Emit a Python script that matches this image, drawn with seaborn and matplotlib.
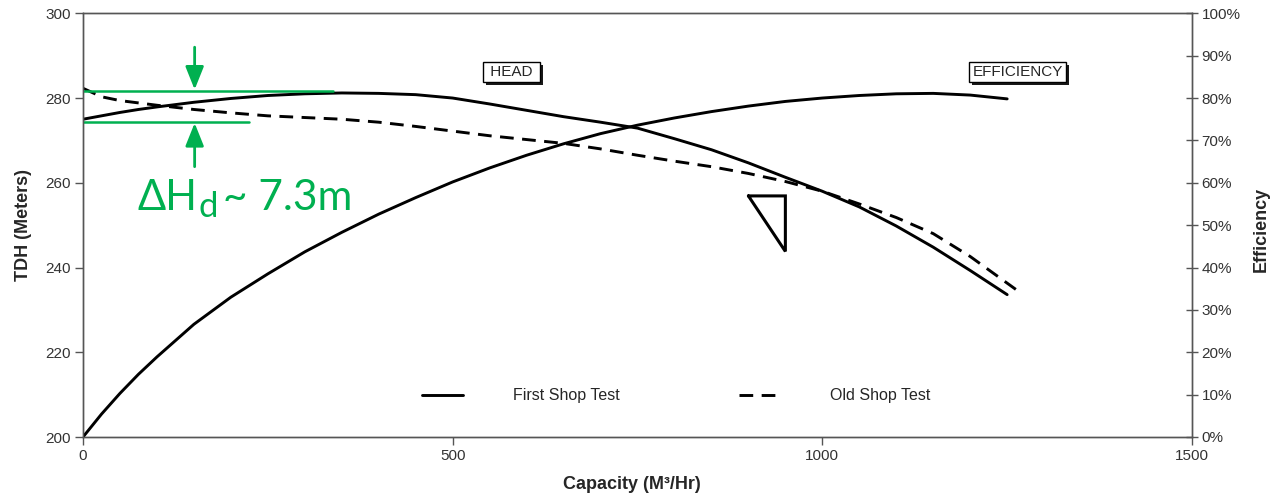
"""
Pump performance curve: head and efficiency vs capacity
"""

import matplotlib
matplotlib.use("Agg")
import matplotlib.pyplot as plt
import matplotlib.patheffects as pe
from matplotlib.ticker import PercentFormatter
import seaborn as sns

# Dados
capacity = [0, 25, 50, 75, 100, 150, 200, 250, 300, 350, 400, 450, 500, 550,
            600, 650, 700, 750, 800, 850, 900, 950, 1000, 1050, 1100, 1150,
            1200, 1250]
head_first = [275.0, 275.8, 276.6, 277.3, 277.9, 279.0, 279.9, 280.6, 281.0,
              281.2, 281.1, 280.8, 280.0, 278.6, 277.1, 275.6, 274.3, 272.9,
              270.4, 267.8, 264.7, 261.3, 258.0, 254.3, 249.8, 244.8, 239.3,
              233.6]
eff_first = [0.0, 5.4, 10.3, 14.8, 18.9, 26.6, 33.0, 38.5, 43.7, 48.3, 52.6,
             56.5, 60.2, 63.5, 66.5, 69.2, 71.6, 73.6, 75.3, 76.8, 78.1, 79.2,
             80.0, 80.6, 81.0, 81.1, 80.7, 79.8]

capacity_old = [0, 25, 50, 100, 150, 200, 250, 300, 350, 400, 450, 500, 550,
                600, 650, 700, 750, 800, 850, 900, 950, 1000, 1050, 1100, 1150,
                1200, 1262]
head_old = [282.3, 280.3, 279.4, 278.3, 277.3, 276.5, 275.8, 275.4, 275.0,
            274.3, 273.3, 272.2, 271.1, 270.2, 269.3, 268.0, 266.5, 265.1,
            263.8, 262.2, 260.3, 258.0, 255.0, 251.8, 248.0, 242.6, 234.8]

x_ticks = [0, 500, 1000, 1500]
head_ticks = [200, 220, 240, 260, 280, 300]
eff_ticks = [0, 10, 20, 30, 40, 50, 60, 70, 80, 90, 100]

GREEN = "#00B050"

sns.set_style("ticks")
plt.rcParams["font.family"] = ["Liberation Sans", "DejaVu Sans"]

fig = plt.figure(figsize=(12.74, 4.96), dpi=100)
ax = fig.add_axes([83 / 1274, 1 - 437 / 496, 1109 / 1274, 423.7 / 496])
ax2 = ax.twinx()

dashed = (0, (4.7, 2.9))
sns.lineplot(x=capacity, y=head_first, ax=ax, color="black", lw=2.1,
             label="First Shop Test")
sns.lineplot(x=capacity_old, y=head_old, ax=ax, color="black", lw=2.1,
             linestyle=dashed, label="Old Shop Test")
sns.lineplot(x=capacity, y=eff_first, ax=ax2, color="black", lw=2.1, legend=False)

ax.set_xlim(0, 1500)
ax.set_ylim(200, 300)
ax2.set_ylim(0, 100)
ax.set_xticks(x_ticks)
ax.set_yticks(head_ticks)
ax2.set_yticks(eff_ticks)
ax2.yaxis.set_major_formatter(PercentFormatter(decimals=0))

for a in (ax, ax2):
    for s in a.spines.values():
        s.set_visible(True)
        s.set_color("#555555")
        s.set_linewidth(1)
ax.tick_params(direction="out", length=6, width=1, labelsize=11,
               color="#555555", labelcolor="#333333", pad=3)
ax2.tick_params(direction="inout", length=8, width=1, labelsize=11,
                color="#555555", labelcolor="#333333", pad=3)

ax.set_xlabel("Capacity (M³/Hr)", fontsize=13, fontweight="bold")
ax.set_ylabel("TDH (Meters)", fontsize=13, fontweight="bold")
ax2.set_ylabel("Efficiency", fontsize=13, fontweight="bold")
ax.xaxis.set_label_coords(0.495, -0.092)
ax.yaxis.set_label_coords(-0.046, 0.5)
ax2.yaxis.set_label_coords(1.055, 0.49)

ax.legend(loc="center", bbox_to_anchor=(0.535, 0.097), ncol=2, frameon=False,
          handlelength=2.6, handletextpad=3.1, columnspacing=7.5, fontsize=11.5)

# Caixas de texto com sombra
for label, xpos in ((" HEAD ", 580), ("EFFICIENCY", 1264)):
    t = ax.text(xpos, 286.1, label, ha="center", va="center", fontsize=11,
                bbox=dict(boxstyle="square,pad=0.2", fc="white", ec="black", lw=1))
    t.get_bbox_patch().set_path_effects(
        [pe.SimplePatchShadow(offset=(2, -2), shadow_rgbFace="black", alpha=0.9),
         pe.Normal()])

# Triângulo (símbolo)
ax.plot([900, 950, 950, 900], [256.9, 256.9, 243.8, 256.9], color="black",
        lw=2.2, solid_joinstyle="miter")

# Anotação em verde
ax.plot([0, 338], [281.65, 281.65], color=GREEN, lw=1.8, zorder=5)
ax.plot([0, 225], [274.4, 274.4], color=GREEN, lw=1.8, zorder=5)
arrow = dict(arrowstyle="-|>,head_length=0.7,head_width=0.28", color=GREEN,
             lw=2, mutation_scale=20, shrinkA=0, shrinkB=0)
ax.annotate("", xy=(151, 282.0), xytext=(151, 292.0), arrowprops=arrow)
ax.annotate("", xy=(151, 274.1), xytext=(151, 263.8), arrowprops=arrow)

green_font = ["Lato", "DejaVu Sans"]
t1 = ax.text(74, 253.55, "ΔH", fontsize=30, color=GREEN, family=green_font,
             ha="left", va="baseline")
ax.annotate("d", xy=(1, 0), xycoords=t1, xytext=(1, -4),
            textcoords="offset points", fontsize=25, color=GREEN,
            family=green_font, ha="left", va="bottom")
ax.annotate("~ 7.3m", xy=(1, 0), xycoords=t1, xytext=(18, 0),
            textcoords="offset points", fontsize=30.5, color=GREEN,
            family=green_font, ha="left", va="bottom")

fig.savefig("out.png", dpi=100)
